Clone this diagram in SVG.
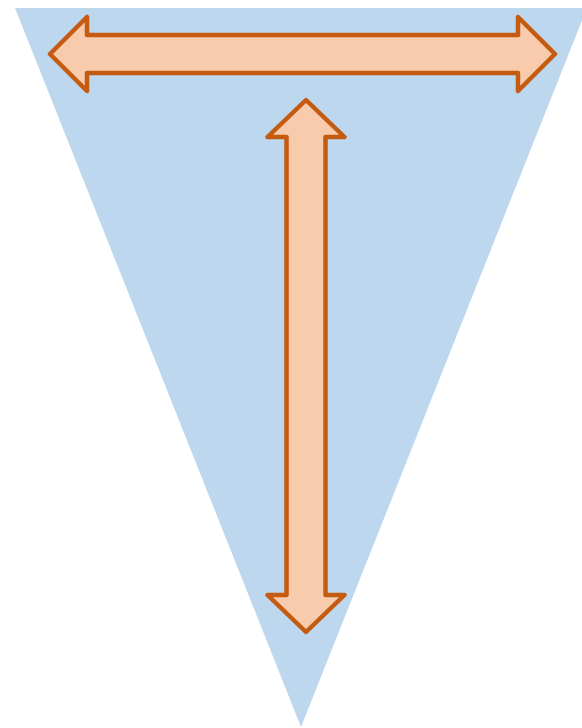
<svg xmlns="http://www.w3.org/2000/svg" width="582" height="728" viewBox="0 0 582 728">
<style>
.bg{fill:#BDD7EE;stroke:none}
.arr{fill:#F8CBAD;stroke:#C55A11;stroke-width:4.5;stroke-linejoin:round}
</style>
<rect width="582" height="728" fill="#FFFFFF"/>
<g id="triangle"><polygon class="bg" points="15,8 587,8 301,727"/></g>
<g id="connectors">
<polygon id="h-arrow" class="arr" points="50,54 87,17 87,35 518,35 518,17 555,54 518,91 518,73 87,73 87,91"/>
<polygon id="v-arrow" class="arr" points="306,100 344.5,137 325.5,137 325.5,595 344.5,595 306,632 267.5,595 286.5,595 286.5,137 267.5,137"/>
</g>
</svg>
